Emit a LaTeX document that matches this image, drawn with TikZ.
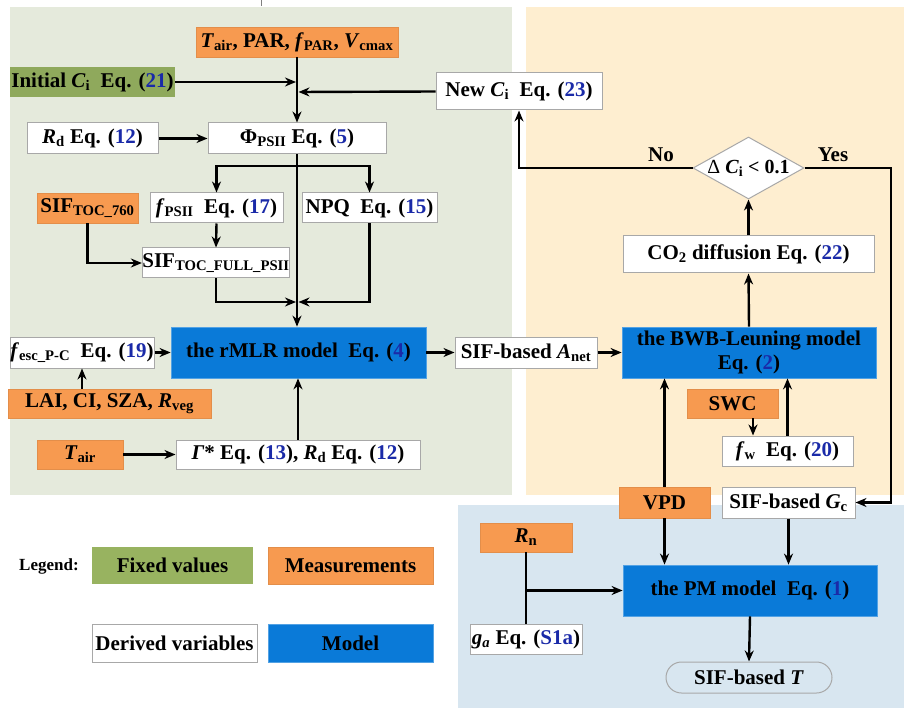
\documentclass[tikz,border=0pt]{standalone}
\usepackage{fontspec}
\setmainfont{Liberation Serif}
\usetikzlibrary{arrows.meta,shapes.geometric,shapes.misc,calc}
\definecolor{pgreen}{HTML}{E5EADC}
\definecolor{porange}{HTML}{FEEED0}
\definecolor{pblue}{HTML}{D8E6F0}
\definecolor{fgreen}{HTML}{8FA95C}
\definecolor{lgreen}{HTML}{98B360}
\definecolor{forange}{HTML}{F79A50}
\definecolor{fblue}{HTML}{0A7AD8}
\definecolor{eqblue}{HTML}{1A2AA8}
\definecolor{bgray}{HTML}{A8A8A8}
\newcommand\sbs[1]{\textsubscript{#1}}
\newcommand\eqn[1]{\textcolor{eqblue}{#1}}
\begin{document}
\begin{tikzpicture}[x=1pt,y=-1pt,
  font=\fontsize{21}{24}\selectfont\bfseries,
  base/.style={inner sep=0pt, align=center},
  wbox/.style={base, draw=bgray, line width=1pt, fill=white},
  obox/.style={base, draw=forange!92!black, line width=0.6pt, fill=forange},
  gbox/.style={base, fill=fgreen},
  mbox/.style={base, draw=fblue!70!white, line width=0.8pt, fill=fblue},
  arr/.style={line width=2.4pt, -{Stealth[length=11pt,width=9pt]}},
  ln/.style={line width=2.4pt}]
\useasboundingbox (0,0) rectangle (904,708);
\fill[white] (0,0) rectangle (904,708);
% panels
\fill[pgreen] (10,7) rectangle (512,495);
\fill[porange] (526,7) rectangle (904,495);
\fill[pblue] (458,505) rectangle (904,708);
\draw[gray, line width=0.8pt] (261,0) -- (261,6);

% nodes (left panel)
\node[obox, minimum width=202pt, minimum height=30pt] (meas1) at (297,42) {\textit{T}\sbs{air}, PAR, \textit{f}\sbs{PAR}, \textit{V}\sbs{cmax}};
\node[gbox, minimum width=165pt, minimum height=30pt] (initci) at (92.5,82) {Initial \textit{C}\sbs{i}\ \ Eq. (\eqn{21})};
\node[wbox, minimum width=166pt, minimum height=37pt] (newci) at (519,91.5) {New \textit{C}\sbs{i}\ \ Eq. (\eqn{23})};
\node[wbox, minimum width=131pt, minimum height=31pt] (rd) at (92.5,138.5) {\textit{R}\sbs{d} Eq. (\eqn{12})};
\node[wbox, minimum width=178pt, minimum height=31pt] (phi) at (297,138.5) {Φ\sbs{PSII} Eq. (\eqn{5})};
\node[obox, minimum width=101pt, minimum height=30pt] (sif760) at (87.5,208) {SIF\sbs{TOC\_760}};
\node[wbox, minimum width=133pt, minimum height=30pt] (fpsii) at (216.5,208) {\textit{f}\sbs{PSII}\ \ Eq. (\eqn{17})};
\node[wbox, minimum width=135pt, minimum height=30pt] (npq) at (369.5,208) {NPQ\ \ Eq. (\eqn{15})};
\node[wbox, minimum width=144pt, minimum height=30pt] (siffull) at (216,263) {SIF\sbs{TOC\_FULL\_PSII}};
\node[mbox, minimum width=255pt, minimum height=51pt] (rmlr) at (298.5,352.5) {the rMLR model\ \ Eq. (\eqn{4})};
\node[wbox, minimum width=144pt, minimum height=31pt] (fesc) at (82,352.5) {\textit{f}\sbs{esc\_P-C}\ \ Eq. (\eqn{19})};
\node[obox, minimum width=203pt, minimum height=29pt] (lai) at (109.5,403.5) {LAI, CI, SZA, \textit{R}\sbs{veg}};
\node[obox, minimum width=86pt, minimum height=29pt] (tair) at (80,454.5) {\textit{T}\sbs{air}};
\node[wbox, minimum width=244pt, minimum height=29pt] (gamma) at (298,454.5) {\textit{Γ}* Eq. (\eqn{13}), \textit{R}\sbs{d} Eq. (\eqn{12})};

% nodes (right panel)
\node[wbox, minimum width=142pt, minimum height=31pt] (anet) at (526,352.5) {SIF-based \textit{A}\sbs{net}};
\node[mbox, minimum width=254pt, minimum height=51pt] (bwb) at (749,352.5) {the BWB-Leuning model\\Eq. (\eqn{2})};
\node[wbox, minimum width=251pt, minimum height=37pt] (co2) at (748.5,254.5) {CO\sbs{2} diffusion Eq. (\eqn{22})};
\node[diamond, draw=bgray, line width=1pt, fill=white, inner sep=0pt, minimum width=111pt, minimum height=62pt] (dia) at (748.5,168) {};
\node[base, font=\fontsize{20}{24}\selectfont\bfseries] (dialab) at (dia) {{\mdseries Δ} \textit{C}\sbs{i} < 0.1};
\node[base] (no) at (661,155) {No};
\node[base] (yes) at (833,155) {Yes};
\node[obox, minimum width=91pt, minimum height=29pt] (swc) at (732.5,403.5) {SWC};
\node[wbox, minimum width=131pt, minimum height=30pt] (fw) at (787.5,451) {\textit{f}\sbs{w}\ \ Eq. (\eqn{20})};
\node[obox, minimum width=91pt, minimum height=31pt] (vpd) at (664.5,502.5) {VPD};
\node[wbox, minimum width=133pt, minimum height=31pt] (gc) at (788.5,502.5) {SIF-based \textit{G}\sbs{c}};

% nodes (bottom panel)
\node[obox, minimum width=92pt, minimum height=29pt] (rn) at (526,537.5) {\textit{R}\sbs{n}};
\node[mbox, minimum width=254pt, minimum height=51pt] (pm) at (750,590.5) {the PM model\ \ Eq. (\eqn{1})};
\node[wbox, minimum width=112pt, minimum height=30pt] (ga) at (526,639) {\textit{g}\sbs{\textit{a}} Eq. (\eqn{S1a})};
\node[rounded rectangle, draw=bgray, line width=1pt, fill=pblue, inner sep=0pt, minimum width=166pt, minimum height=31pt] (sift) at (749,677.5) {SIF-based \textit{T}};

% legend
\node[base, font=\fontsize{17}{20}\selectfont\bfseries] (leg) at (49,566) {Legend:};
\node[gbox, fill=lgreen, minimum width=161pt, minimum height=37pt] (lfix) at (172.5,565.5) {Fixed values};
\node[obox, minimum width=165pt, minimum height=37pt] (lmeas) at (350.5,565.5) {Measurements};
\node[wbox, minimum width=165pt, minimum height=38pt] (lder) at (174.5,643) {Derived variables};
\node[mbox, minimum width=165pt, minimum height=38pt] (lmod) at (350.5,643) {Model};

% junction coordinates
\coordinate (ci1) at (296,82);
\coordinate (ci2) at (298.5,92);
\coordinate (br) at (297,166);
\coordinate (jl) at (296,302);
\coordinate (jr) at (298.5,302);
\coordinate (yc) at (891,168);
\coordinate (rj) at (526,590.5);

% connectors left
\draw[arr] (meas1.south) -- (phi.north);
\draw[arr] (initci.east) -- (ci1);
\draw[arr] (newci.west) -- (ci2);
\draw[arr] (rd.east) -- (phi.west);
\draw[arr] (phi.south) -- (phi.south |- rmlr.north);
\draw[arr] (br) -| (fpsii.north);
\draw[arr] (br) -| (npq.north);
\draw[arr] (fpsii.south) -- (siffull.north);
\draw[arr] (sif760.south) |- (siffull.west);
\draw[arr] (siffull.south) |- (jl);
\draw[arr] (npq.south) |- (jr);
\draw[arr] (fesc.east) -- (rmlr.west);
\draw[arr] (fesc.south |- lai.north) -- (fesc.south);
\draw[arr] (tair.east) -- (gamma.west);
\draw[arr] (gamma.north) -- (gamma.north |- rmlr.south);
% connectors right
\draw[arr] (rmlr.east) -- (anet.west);
\draw[arr] (anet.east) -- (bwb.west);
\draw[arr] (bwb.north) -- (co2.south);
\draw[arr] (co2.north) -- (dia.south);
\draw[arr] (dia.west) -| (newci.south);
\draw[arr] (dia.east) -- (yc) |- (gc.east);
\draw[arr] ([xshift=20.5pt]swc.south) -- ([xshift=20.5pt]swc.south |- fw.north);
\draw[arr] (fw.north) -- (fw.north |- bwb.south);
\draw[arr] (vpd.north) -- (vpd.north |- bwb.south);
% connectors bottom
\draw[arr] (vpd.south) -- (vpd.south |- pm.north);
\draw[arr] (gc.south) -- (gc.south |- pm.north);
\draw[ln] (rn.south) -- (ga.north);
\draw[arr] (rj) -- (pm.west);
\draw[arr] (pm.south) -- (sift.north);
\end{tikzpicture}
\end{document}
